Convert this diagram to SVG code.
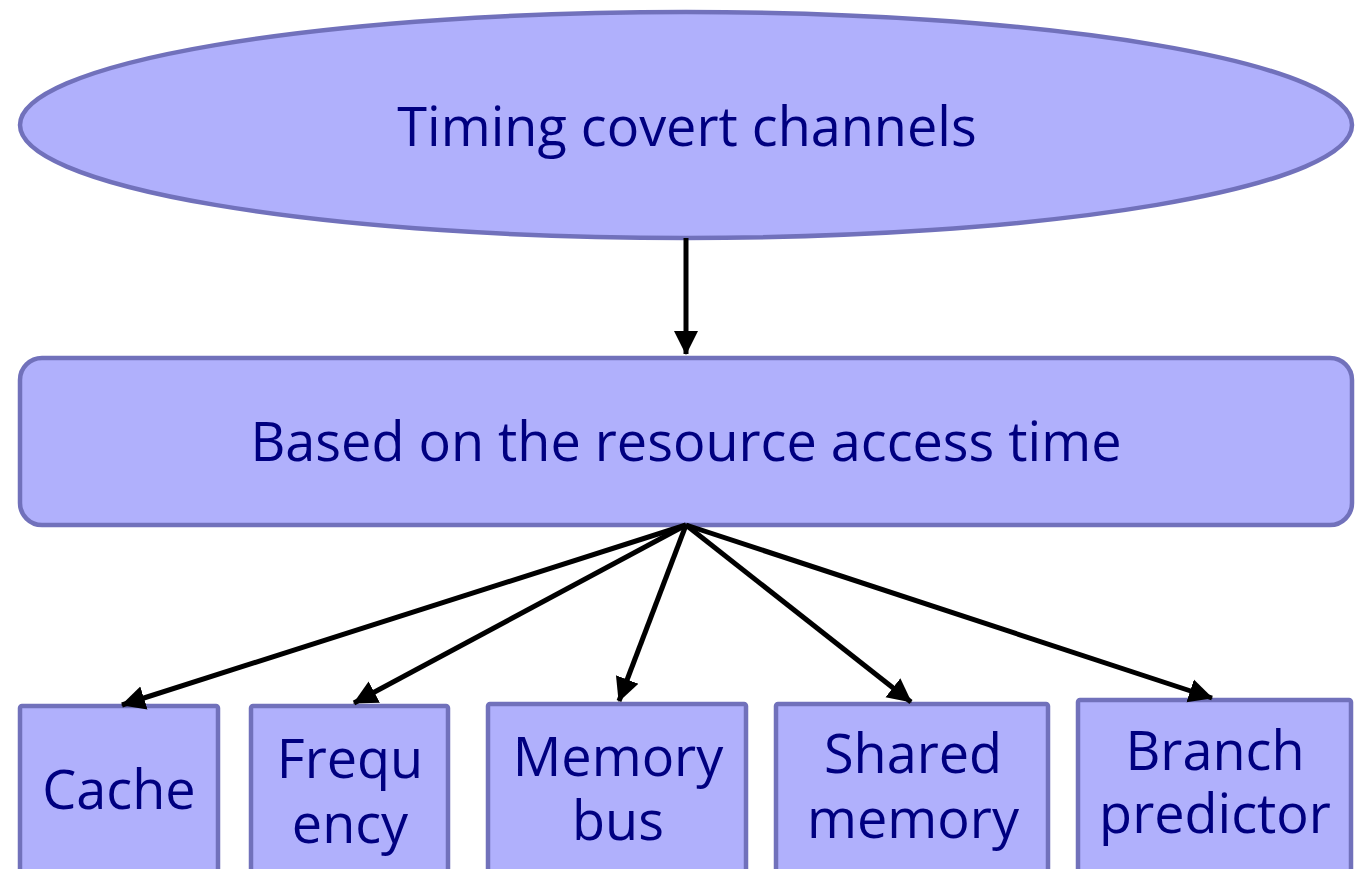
<svg xmlns="http://www.w3.org/2000/svg" width="1365" height="869" viewBox="0 0 1365 869">
  <style>
    .node { fill: #b0b0fc; stroke: #7171bb; stroke-width: 4.5; }
    .label { font-family: "Open Sans", "Noto Sans", "DejaVu Sans", sans-serif; fill: #000080; text-anchor: middle; font-size: 54px; }
    .edge { stroke: #000; stroke-width: 5; fill: none; marker-end: url(#arrow); }
  </style>
  <defs>
    <marker id="arrow" markerWidth="6" markerHeight="6" refX="4.6" refY="3" orient="auto" markerUnits="strokeWidth">
      <path d="M0,0.6 L4.8,3 L0,5.4 Z" fill="#000"/>
    </marker>
  </defs>
  <rect width="1365" height="869" fill="#fff"/>

  <g id="timing-covert-channels">
    <ellipse class="node" cx="686" cy="125" rx="666" ry="113"/>
    <text class="label" x="687" y="146" font-size="59">Timing covert channels</text>
  </g>

  <g id="resource-access-time">
    <rect class="node" x="20" y="358" width="1332" height="167" rx="22"/>
    <text class="label" x="686" y="461" font-size="56">Based on the resource access time</text>
  </g>

  <g id="cache">
    <rect class="node" x="20" y="706" width="198" height="180" rx="2"/>
    <text class="label" x="119" y="809">Cache</text>
  </g>

  <g id="frequency">
    <rect class="node" x="251" y="706" width="197" height="180" rx="2"/>
    <text class="label" x="350" y="778">Frequ</text>
    <text class="label" x="350" y="843">ency</text>
  </g>

  <g id="memory-bus">
    <rect class="node" x="488" y="704" width="258" height="180" rx="2"/>
    <text class="label" x="618" y="776">Memory</text>
    <text class="label" x="618" y="840">bus</text>
  </g>

  <g id="shared-memory">
    <rect class="node" x="776" y="704" width="272" height="180" rx="2"/>
    <text class="label" x="913" y="773">Shared</text>
    <text class="label" x="913" y="838">memory</text>
  </g>

  <g id="branch-predictor">
    <rect class="node" x="1078" y="700" width="273" height="180" rx="2"/>
    <text class="label" x="1215" y="770">Branch</text>
    <text class="label" x="1215" y="833">predictor</text>
  </g>

  <g id="connectors">
    <line class="edge" x1="686" y1="238" x2="686" y2="354"/>
    <line class="edge" x1="686" y1="525" x2="122" y2="705"/>
    <line class="edge" x1="686" y1="525" x2="354" y2="703"/>
    <line class="edge" x1="686" y1="525" x2="619" y2="701"/>
    <line class="edge" x1="686" y1="525" x2="911" y2="702"/>
    <line class="edge" x1="686" y1="525" x2="1212" y2="698"/>
  </g>
</svg>
